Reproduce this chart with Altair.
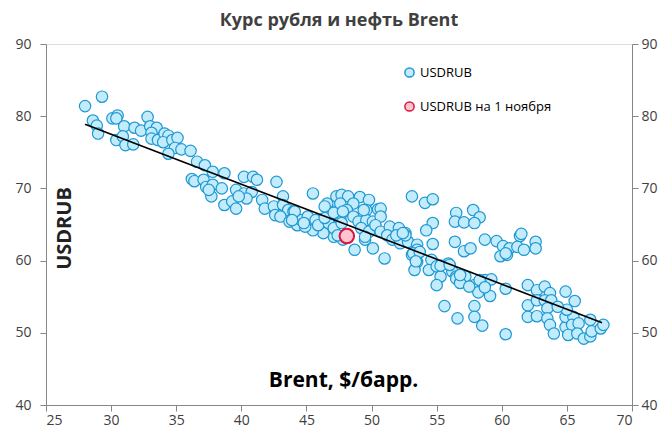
import altair as alt
import pandas as pd

# Blue points: Brent ($/bbl) vs USDRUB
brent_x = [
    28.0, 29.3, 28.6, 28.9, 29.0, 30.1, 30.5, 30.4, 31.0, 30.4, 30.9, 31.1, 31.7, 31.8, 32.3,
    32.8, 33.0, 33.5, 33.1, 33.1, 33.6, 34.1, 34.4, 34.0, 34.7, 35.1, 34.9, 34.4, 35.4, 36.1,
    36.2, 36.6, 37.2, 36.4, 37.1, 37.3, 37.8, 37.7, 37.8, 38.7, 38.5, 37.5, 38.7, 39.3, 39.6,
    40.2, 40.9, 41.2, 39.6, 40.2, 40.8, 40.4, 39.8, 42.7, 41.6, 41.8, 42.5, 42.6, 43.2, 43.2,
    43.6, 44.0, 43.0, 43.7,
    44.3, 44.6, 45.1, 45.5, 45.8, 46.6, 46.7, 47.2, 47.3, 47.1, 46.3, 45.5, 44.9, 47.7, 48.2,
    49.1, 49.8, 47.6, 48.6, 46.4, 48.1, 49.6, 50.5, 50.7, 44.8, 45.7, 45.9, 46.7, 44.1, 43.9,
    46.4, 47.1, 47.6, 47.7, 48.6, 49.0, 49.6, 50.1, 50.7, 49.2, 49.8, 50.3, 50.7, 51.4, 52.1,
    52.6, 51.2, 51.6, 52.1, 52.2, 52.8, 53.5, 53.5, 53.1, 53.5, 53.3, 51.0, 50.1, 49.5, 48.7,
    47.8, 47.4, 47.1, 47.8, 49.4, 51.9, 52.6, 49.5,
    53.1, 54.1, 54.7, 54.7, 54.2, 54.7, 56.5, 56.4, 56.4, 54.6, 54.4, 55.0, 55.3, 55.0, 55.9,
    56.2, 56.5, 57.1, 57.8, 58.3, 57.9, 57.1, 57.6, 58.7, 59.6, 60.1, 60.6, 61.4, 61.5, 61.2,
    59.9, 60.4, 61.7, 62.6, 62.6, 56.5, 57.2, 56.8, 57.9, 58.7, 59.2, 58.2, 59.1, 60.3, 55.6,
    56.6, 57.9, 57.9, 58.5, 60.3, 52.4, 53.2, 53.7, 53.4, 55.3, 56.0, 56.8, 57.5, 58.3, 58.7,
    60.3,
    62.0, 62.7, 63.3, 63.7, 64.9, 65.6, 62.0, 62.7, 63.3, 63.8, 63.5, 62.0, 62.7, 63.5, 63.7,
    64.0, 64.9, 64.9, 65.5, 65.4, 65.9, 65.1, 65.8, 66.3, 66.8, 66.9, 66.8, 67.6, 67.8, 65.0,
    64.3,
]
usdrub_y = [
    81.4, 82.7, 79.4, 78.7, 77.6, 79.7, 80.1, 79.7, 78.6, 76.7, 77.2, 76.0, 76.1, 78.4, 78.0,
    79.9, 78.6, 78.4, 77.7, 76.9, 76.7, 77.6, 77.3, 76.4, 76.7, 77.0, 75.6, 74.8, 75.4, 75.2,
    71.3, 73.7, 73.2, 71.0, 71.2, 70.2, 70.5, 68.9, 72.3, 72.1, 70.0, 69.8, 67.7, 68.2, 67.2,
    71.6, 71.6, 71.2, 69.8, 69.3, 69.5, 68.6, 68.9, 70.9, 68.4, 67.2, 67.5, 66.3, 68.9, 67.7,
    67.0, 66.8, 66.1, 65.4,
    64.9, 65.6, 66.1, 69.3, 65.4, 67.9, 65.4, 66.8, 68.9, 63.3, 63.8, 64.2, 64.7, 69.1, 68.9,
    68.8, 68.4, 67.9, 67.9, 67.5, 67.0, 67.0, 67.1, 67.2, 65.2, 65.6, 64.9, 65.2, 66.8, 65.6,
    65.9, 64.5, 65.9, 65.2, 66.1, 65.4, 65.6, 65.4, 66.1, 64.5, 64.0, 64.9, 64.0, 64.7, 64.5,
    63.8, 63.5, 62.9, 63.3, 62.4, 62.6, 62.2, 61.5, 60.8, 59.8, 58.7, 60.3, 61.7, 62.9, 61.5,
    62.9, 63.5, 66.6, 66.8, 67.0, 63.5, 63.5, 63.3,
    68.9, 68.0, 68.5, 65.2, 64.2, 62.3, 66.6, 65.4, 62.6, 60.1, 58.7, 59.2, 57.8, 56.6, 59.6,
    58.5, 57.8, 65.3, 67.0, 66.0, 65.2, 61.3, 61.7, 62.9, 62.7, 62.0, 61.7, 63.4, 63.7, 61.9,
    60.6, 60.8, 61.5, 62.6, 61.7, 57.5, 57.8, 56.9, 56.6, 57.3, 57.4, 55.6, 55.1, 56.1, 53.7,
    52.0, 53.7, 52.2, 51.0, 49.8, 63.8, 61.0, 61.2, 59.9, 59.3, 59.4, 58.0, 56.4, 57.3, 56.3,
    61.0,
    56.6, 55.9, 56.4, 55.5, 55.7, 54.4, 53.8, 54.5, 54.5, 54.5, 53.4, 52.2, 52.3, 52.0, 51.1,
    49.9, 50.8, 52.2, 52.2, 51.1, 51.3, 49.7, 49.9, 49.2, 49.5, 50.2, 51.8, 50.6, 51.1, 53.2,
    53.6,
]

# Highlighted point: USDRUB on 1 November
nov_x = [48.1]
nov_y = [63.4]

# Trend line end points
trend_x = [28.0, 67.7]
trend_y = [78.9, 51.4]

series_names = ["USDRUB", "USDRUB на 1 ноября"]
fill_colors = ["#C2ECFB", "#FFC4CF"]
stroke_colors = ["#1E98D3", "#D8173F"]

x_ticks = [25, 30, 35, 40, 45, 50, 55, 60, 65, 70]
y_ticks = [40, 50, 60, 70, 80, 90]

FONT = "Open Sans"
AXIS_GRAY = "#868686"
LABEL_COLOR = "#404040"

pts = pd.DataFrame({"brent": brent_x, "usdrub": usdrub_y, "series": series_names[0]})
nov = pd.DataFrame({"brent": nov_x, "usdrub": nov_y, "series": series_names[1]})
trend = pd.DataFrame({"brent": trend_x, "usdrub": trend_y})

xscale = alt.Scale(domain=[25, 70], nice=False, zero=False)
yscale = alt.Scale(domain=[40, 90], nice=False, zero=False)

x_axis = alt.Axis(
    values=x_ticks, grid=False, domainColor=AXIS_GRAY, tickColor=AXIS_GRAY, tickSize=6,
    labelFont=FONT, labelFontSize=14, labelColor=LABEL_COLOR, labelPadding=2,
    title="Brent, $/барр.", titleFont=FONT, titleFontSize=21, titleFontWeight="bold",
    titleColor="#000000", titleX=297, titleY=-25, titleBaseline="middle", titleAnchor="middle",
)
xenc = alt.X("brent:Q", scale=xscale, axis=x_axis)

fill_enc = alt.Fill(
    "series:N", title=None,
    scale=alt.Scale(domain=series_names, range=fill_colors),
    legend=alt.Legend(
        orient="none", legendX=357, legendY=22, padding=0, symbolType="circle",
        symbolSize=85, symbolStrokeWidth=1.5, labelFont=FONT, labelFontSize=13,
        labelColor="#000000", labelOffset=4, rowPadding=17,
    ),
)
stroke_enc = alt.Stroke(
    "series:N", title=None,
    scale=alt.Scale(domain=series_names, range=stroke_colors),
)

left_axis = alt.Axis(
    orient="left", values=y_ticks, grid=False, domainColor=AXIS_GRAY, tickColor=AXIS_GRAY,
    tickSize=6, labelFont=FONT, labelFontSize=14, labelColor=LABEL_COLOR, labelPadding=9,
    title="USDRUB", titleFont=FONT, titleFontSize=20, titleFontWeight="bold",
    titleColor="#222222", titleAngle=270, titleX=18, titleY=184,
    titleBaseline="middle", titleAlign="center",
)
right_axis = alt.Axis(
    orient="right", values=y_ticks, grid=False, domainColor=AXIS_GRAY, tickColor=AXIS_GRAY,
    tickSize=6, labelFont=FONT, labelFontSize=14, labelColor=LABEL_COLOR, labelPadding=3,
    title=None,
)

blue = alt.Chart(pts).mark_point(
    shape="circle", filled=True, size=130, strokeWidth=1.2, opacity=1, fillOpacity=1
).encode(
    x=xenc,
    y=alt.Y("usdrub:Q", scale=yscale, axis=left_axis),
    fill=fill_enc,
    stroke=stroke_enc,
)

red = alt.Chart(nov).mark_point(
    shape="circle", filled=True, size=210, strokeWidth=2, opacity=1, fillOpacity=1
).encode(
    x=xenc,
    y=alt.Y("usdrub:Q", scale=yscale, axis=right_axis),
    fill=fill_enc,
    stroke=stroke_enc,
)

line = alt.Chart(trend).mark_line(color="#000000", strokeWidth=1.6).encode(
    x=xenc,
    y=alt.Y("usdrub:Q", scale=yscale, axis=None),
)

chart = (
    alt.layer(blue, red, line)
    .resolve_axis(y="independent")
    .properties(
        width=586,
        height=361,
        autosize=alt.AutoSizeParams(type="none"),
        padding={"left": 38, "top": 36, "right": 30, "bottom": 26},
        title=alt.TitleParams(
            "Курс рубля и нефть Brent", font=FONT, fontSize=18, fontWeight="bold",
            color="#404040", anchor="middle", offset=7,
        ),
    )
    .configure_view(stroke=None)
    .configure(background="#ffffff")
)

chart.save("out.html", embed_options={"renderer": "svg", "actions": False})
